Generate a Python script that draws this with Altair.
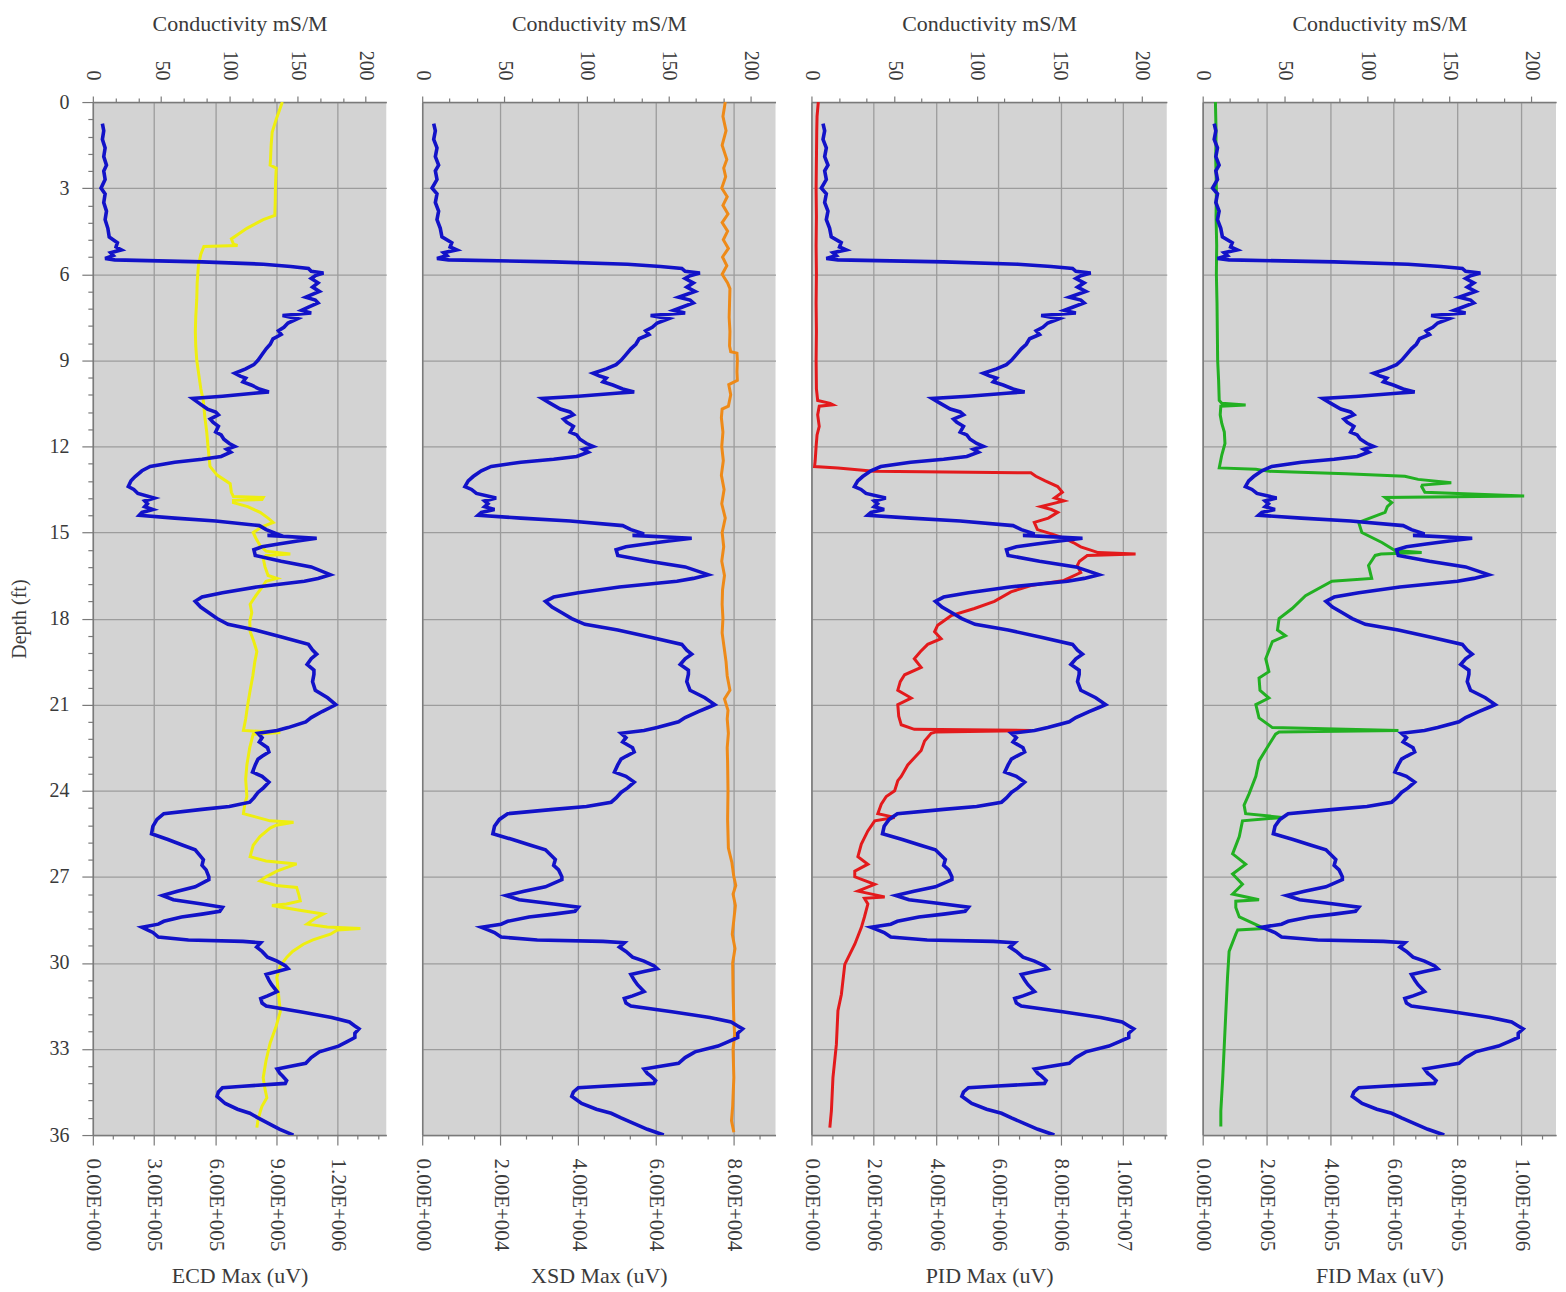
import altair as alt
import pandas as pd

# ---------------- data ----------------
# Conductivity log (mS/M) vs depth (ft) - same in all four panels
cond_depth = [0.75, 1.0, 1.3, 1.6, 1.9, 2.2, 2.4, 2.7, 3.0, 3.2, 3.5, 3.8, 4.1, 4.4, 4.7, 4.9, 5.05, 5.15, 5.25, 5.35,
              5.45, 5.5, 5.57, 5.65, 5.73, 5.8, 5.9, 5.96, 6.05, 6.15, 6.3, 6.45, 6.6, 6.8, 6.9, 7.0, 7.15, 7.26, 7.35, 7.44,
              7.55, 7.7, 7.85, 7.97, 8.1, 8.25, 8.44, 8.6, 8.8, 9.0, 9.15, 9.3, 9.45, 9.55, 9.62, 9.75, 9.86, 10.0, 10.1, 10.15,
              10.25, 10.33, 10.5, 10.7, 10.8, 10.9, 11.05, 11.16, 11.3, 11.5, 11.6, 11.75, 11.9, 12.0, 12.1, 12.2, 12.35, 12.45, 12.55, 12.7,
              12.85, 13.05, 13.2, 13.4, 13.5, 13.64, 13.8, 13.9, 14.0, 14.1, 14.2, 14.3, 14.4, 14.5, 14.6, 14.76, 14.9, 15.05, 15.1, 15.2,
              15.3, 15.4, 15.5, 15.6, 15.8, 16.0, 16.2, 16.47, 16.6, 16.7, 16.9, 17.1, 17.25, 17.4, 17.6, 17.8, 18.0, 18.2, 18.4, 18.65,
              18.9, 19.1, 19.24, 19.4, 19.6, 19.8, 19.94, 20.2, 20.5, 20.76, 21.0, 21.1, 21.24, 21.45, 21.6, 21.8, 21.9, 22.0, 22.15, 22.3,
              22.5, 22.65, 22.8, 22.9, 23.1, 23.35, 23.5, 23.7, 23.9, 24.06, 24.25, 24.4, 24.55, 24.65, 24.8, 25.0, 25.24, 25.5, 25.7, 25.9,
              26.06, 26.4, 26.6, 26.76, 27.0, 27.1, 27.35, 27.5, 27.65, 27.8, 27.95, 28.06, 28.2, 28.3, 28.4, 28.55, 28.65, 28.76, 28.85, 28.94,
              29.1, 29.2, 29.25, 29.3, 29.45, 29.6, 29.8, 29.94, 30.1, 30.2, 30.3, 30.4, 30.6, 30.76, 31.0, 31.15, 31.24, 31.4, 31.5, 31.7,
              31.9, 32.06, 32.2, 32.3, 32.45, 32.6, 32.75, 32.9, 33.1, 33.3, 33.5, 33.6, 33.7, 33.85, 33.94, 34.1, 34.2, 34.3, 34.35, 34.5,
              34.65, 34.9, 35.1, 35.24, 35.4, 35.6, 35.8, 36.0]
cond_vals = [7, 8, 7, 9, 8, 10, 8, 9, 6, 9, 8, 10, 9, 11, 12, 18, 17, 21, 13, 15,
             9, 16, 80, 125, 145, 158, 160, 169, 163, 160, 165, 161, 166, 156, 163, 165, 158, 153, 160, 139,
             150, 143, 140, 136, 138, 132, 130, 127, 124, 121, 118, 112, 104, 108, 112, 110, 116, 122, 129, 118,
             95, 73, 78, 84, 90, 92, 86, 88, 92, 90, 94, 96, 100, 104, 98, 101, 94, 80, 60, 42,
             36, 31, 28, 26, 30, 33, 45, 38, 40, 38, 44, 36, 34, 60, 90, 122, 127, 135, 128, 164,
             150, 136, 124, 118, 119, 138, 160, 174, 165, 155, 120, 95, 80, 75, 79, 85, 91, 99, 119, 139,
             158, 161, 164, 160, 157, 162, 162, 161, 163, 172, 178, 174, 168, 160, 156, 143, 135, 121, 124, 122,
             128, 129, 124, 121, 119, 117, 124, 129, 125, 121, 118, 115, 100, 80, 52, 47, 44, 43, 55, 66,
             75, 81, 80, 83, 85, 85, 75, 62, 51, 59, 80, 95, 93, 80, 65, 52, 48, 36, 40, 44,
             48, 70, 110, 123, 120, 124, 128, 135, 141, 143, 135, 127, 129, 131, 135, 128, 123, 124, 127, 152,
             175, 188, 192, 195, 192, 192, 186, 180, 166, 160, 156, 145, 135, 137, 139, 142, 141, 110, 95, 92,
             91, 97, 106, 115, 121, 129, 137, 147]

# ECD (uV)
ecd_depth = [0.0, 0.3, 0.6, 1.05, 1.5, 2.0, 2.2, 2.3, 2.6, 3.0, 3.5, 3.95, 4.1, 4.4, 4.6, 4.77, 4.95, 5.0, 5.03, 5.3,
             5.7, 6.3, 6.87, 7.5, 8.0, 8.5, 9.0, 9.5, 10.0, 10.4, 11.0, 11.5, 12.0, 12.7, 13.0, 13.3, 13.6, 13.75, 13.78, 13.85,
             13.88, 13.96, 14.1, 14.3, 14.5, 14.65, 14.8, 15.0, 15.2, 15.46, 15.65, 15.75, 15.8, 15.9, 16.2, 16.5, 16.6, 16.7, 16.85, 17.2,
             17.5, 17.8, 18.1, 18.45, 18.8, 19.15, 19.5, 20.0, 20.5, 21.0, 21.5, 21.9, 21.97, 22.03, 22.5, 23.1, 23.6, 24.2, 24.5, 24.8,
             25.05, 25.1, 25.2, 25.3, 25.6, 25.9, 26.3, 26.45, 26.55, 26.8, 27.0, 27.14, 27.3, 27.37, 27.6, 27.84, 27.95, 28.0, 28.15, 28.3,
             28.45, 28.65, 28.75, 28.8, 28.85, 29.0, 29.2, 29.35, 29.6, 29.8, 30.1, 30.5, 31.0, 31.7, 32.2, 32.8, 33.4, 34.0, 34.4, 34.7,
             35.0, 35.2, 35.5, 35.74]
ecd_vals = [930e3, 915e3, 900e3, 880e3, 875e3, 872e3, 870e3, 900e3, 898e3, 896e3, 895e3, 893e3, 836e3, 756e3, 715e3, 680e3, 690e3, 710e3, 545e3, 530e3,
            518e3, 512e3, 510e3, 505e3, 503e3, 505e3, 510e3, 520e3, 530e3, 542e3, 550e3, 559e3, 565e3, 575e3, 610e3, 674e3, 680e3, 690e3, 836e3, 830e3,
            690e3, 690e3, 760e3, 821e3, 860e3, 885e3, 830e3, 787e3, 800e3, 821e3, 850e3, 969e3, 850e3, 836e3, 845e3, 860e3, 903e3, 850e3, 836e3, 800e3,
            772e3, 780e3, 770e3, 772e3, 790e3, 805e3, 795e3, 785e3, 772e3, 760e3, 750e3, 739e3, 920e3, 787e3, 770e3, 756e3, 750e3, 756e3, 745e3, 739e3,
            870e3, 985e3, 900e3, 870e3, 820e3, 787e3, 772e3, 850e3, 1000e3, 903e3, 850e3, 821e3, 900e3, 1000e3, 1010e3, 1018e3, 950e3, 879e3, 1000e3, 1131e3,
            1090e3, 1051e3, 1150e3, 1313e3, 1200e3, 1166e3, 1080e3, 1033e3, 980e3, 952e3, 920e3, 903e3, 910e3, 920e3, 900e3, 870e3, 850e3, 836e3, 845e3, 854e3,
            830e3, 821e3, 810e3, 805e3]

# XSD (uV)
xsd_depth = [0.0, 0.5, 1.0, 1.5, 2.0, 2.3, 2.6, 3.0, 3.3, 3.6, 3.9, 4.2, 4.5, 4.8, 5.1, 5.4, 5.7, 6.0, 6.3, 6.5,
             7.0, 7.5, 8.0, 8.5, 8.7, 8.75, 9.0, 9.4, 9.7, 9.85, 10.2, 10.6, 10.7, 11.0, 11.5, 12.0, 12.5, 13.0, 13.5, 14.0,
             14.5, 15.0, 15.5, 16.0, 16.5, 17.0, 17.5, 18.0, 18.5, 19.0, 19.5, 20.0, 20.5, 20.8, 21.2, 21.5, 22.0, 22.5, 23.0, 24.0,
             25.0, 26.0, 26.5, 27.0, 27.3, 27.6, 28.0, 28.5, 29.0, 29.5, 30.0, 31.0, 32.0, 32.5, 33.0, 34.0, 35.0, 35.5, 35.9]
xsd_vals = [77.8e3, 77.2e3, 78.0e3, 77.0e3, 78.2e3, 77.4e3, 77.9e3, 76.9e3, 78.3e3, 77.2e3, 78.5e3, 77.0e3, 78.4e3, 77.3e3, 78.6e3, 77.1e3, 78.2e3, 77.0e3, 78.4e3, 79.0e3,
            78.9e3, 78.8e3, 79.0e3, 78.9e3, 79.2e3, 80.8e3, 80.9e3, 80.8e3, 80.9e3, 78.7e3, 79.2e3, 78.6e3, 77.0e3, 76.8e3, 77.2e3, 76.9e3, 77.3e3, 76.8e3, 77.5e3, 76.9e3,
            77.8e3, 77.0e3, 77.4e3, 76.9e3, 77.6e3, 77.1e3, 77.0e3, 77.2e3, 77.0e3, 77.5e3, 78.0e3, 78.3e3, 79.0e3, 77.6e3, 78.5e3, 78.3e3, 78.6e3, 78.3e3, 78.4e3, 78.5e3,
            78.4e3, 78.6e3, 79.5e3, 80.0e3, 80.5e3, 79.8e3, 80.4e3, 80.0e3, 79.6e3, 80.3e3, 79.7e3, 79.8e3, 80.0e3, 80.2e3, 79.8e3, 80.0e3, 79.7e3, 79.4e3, 80.0e3]

# PID (uV)
pid_depth = [0.0, 0.5, 1.0, 2.0, 3.0, 4.0, 5.0, 6.0, 7.0, 8.0, 9.0, 10.0, 10.4, 10.5, 10.55, 10.6, 10.9, 11.3, 11.6, 12.0,
             12.5, 12.7, 12.75, 12.87, 12.92, 13.04, 13.2, 13.4, 13.6, 13.8, 13.9, 14.1, 14.2, 14.3, 14.5, 14.65, 14.9, 15.05, 15.2, 15.35,
             15.5, 15.7, 15.75, 15.8, 16.0, 16.15, 16.4, 16.67, 16.85, 17.07, 17.4, 17.65, 17.9, 18.23, 18.46, 18.7, 18.9, 19.15, 19.4, 19.7,
             19.96, 20.2, 20.5, 20.77, 21.0, 21.4, 21.7, 21.86, 21.9, 21.95, 22.0, 22.27, 22.6, 23.1, 23.5, 23.65, 24.0, 24.2, 24.47, 24.8,
             24.93, 25.05, 25.4, 25.86, 26.3, 26.56, 26.8, 27.0, 27.26, 27.5, 27.7, 27.75, 27.95, 28.4, 28.77, 29.35, 30.05, 31.1, 31.67, 32.84,
             34.0, 35.16, 35.74]
pid_vals = [0.22e6, 0.18e6, 0.17e6, 0.16e6, 0.15e6, 0.16e6, 0.15e6, 0.16e6, 0.15e6, 0.16e6, 0.15e6, 0.16e6, 0.2e6, 0.6e6, 0.69e6, 0.25e6, 0.2e6, 0.25e6, 0.18e6, 0.15e6,
            0.12e6, 0.1e6, 0.85e6, 2.0e6, 7.04e6, 7.2e6, 7.5e6, 7.9e6, 8.05e6, 7.8e6, 8.1e6, 7.36e6, 7.7e6, 7.9e6, 7.6e6, 7.15e6, 7.25e6, 7.7e6, 8.1e6, 8.4e6,
            8.64e6, 9.2e6, 10.4e6, 8.85e6, 8.6e6, 8.53e6, 8.64e6, 8.1e6, 7.04e6, 6.4e6, 5.87e6, 5.23e6, 4.48e6, 4.05e6, 3.95e6, 4.16e6, 3.73e6, 3.5e6, 3.3e6, 3.52e6,
            2.99e6, 2.85e6, 2.77e6, 3.2e6, 2.77e6, 2.8e6, 2.88e6, 3.3e6, 7.04e6, 4.0e6, 3.84e6, 3.63e6, 3.52e6, 3.09e6, 2.88e6, 2.77e6, 2.67e6, 2.4e6, 2.24e6, 2.13e6,
            2.67e6, 2.03e6, 1.81e6, 1.6e6, 1.49e6, 1.81e6, 1.39e6, 1.39e6, 2.03e6, 1.49e6, 2.35e6, 1.7e6, 1.81e6, 1.7e6, 1.6e6, 1.39e6, 1.07e6, 0.96e6, 0.85e6, 0.8e6,
            0.69e6, 0.64e6, 0.59e6]

# FID (uV)
fid_depth = [0.0, 1.0, 2.0, 3.0, 4.0, 5.0, 6.0, 7.0, 8.0, 9.0, 9.7, 10.4, 10.5, 10.56, 10.6, 10.9, 11.2, 11.5, 11.9, 12.3,
             12.75, 12.8, 12.87, 12.95, 13.04, 13.15, 13.27, 13.35, 13.4, 13.6, 13.73, 13.78, 13.96, 14.1, 14.3, 14.65, 15.0, 15.35, 15.63, 15.7,
             15.75, 15.8, 16.15, 16.6, 16.7, 17.2, 17.65, 18.0, 18.4, 18.6, 18.8, 19.4, 19.85, 20.07, 20.5, 20.77, 21.0, 21.46, 21.8, 21.9,
             21.95, 22.03, 22.4, 22.96, 23.5, 24.1, 24.5, 24.8, 24.93, 25.05, 25.6, 26.2, 26.56, 26.9, 27.26, 27.6, 27.8, 27.85, 28.07, 28.4,
             28.8, 28.85, 29.0, 29.6, 30.5, 31.67, 32.84, 34.0, 35.16, 35.7]
fid_vals = [40e3, 42e3, 41e3, 43e3, 42e3, 44e3, 43e3, 45e3, 46e3, 47e3, 50e3, 52e3, 60e3, 135e3, 57e3, 55e3, 60e3, 68e3, 70e3, 60e3,
            52e3, 167e3, 210e3, 450e3, 635e3, 677e3, 781e3, 690e3, 688e3, 698e3, 1010e3, 573e3, 594e3, 580e3, 573e3, 490e3, 500e3, 563e3, 604e3, 688e3,
            560e3, 542e3, 521e3, 531e3, 406e3, 323e3, 281e3, 240e3, 235e3, 260e3, 219e3, 198e3, 208e3, 177e3, 180e3, 208e3, 167e3, 177e3, 219e3, 615e3,
            240e3, 229e3, 208e3, 177e3, 167e3, 146e3, 130e3, 135e3, 250e3, 125e3, 115e3, 94e3, 135e3, 94e3, 125e3, 94e3, 177e3, 104e3, 104e3, 115e3,
            193e3, 110e3, 104e3, 83e3, 78e3, 73e3, 68e3, 63e3, 57e3, 57e3]

# ---------------- style ----------------
FONT = "Liberation Serif"
BG = "#d3d3d3"
GRID = "#9c9c9c"
AXIS_C = "#7a7a7a"
TEXT_C = "#3a3a3a"
BLUE = "#1212c8"

PLOT_H = 1035
LABEL_FS = 20
TITLE_FS = 22


def maj(step):
    return f"abs(datum.value/{step} - round(datum.value/{step})) < 0.001"


def cond_num(test, a, b):
    return {"condition": {"test": test, "value": a}, "value": b}


y_ticks = [round(0.6 * k, 4) for k in range(61)]
top_ticks = [50.0 / 3 * k for k in range(13)]


def y_enc(first):
    common = dict(values=y_ticks, grid=True, gridColor=GRID, gridWidth=1.3,
                  gridOpacity=cond_num(maj(3), 1, 0), labelOverlap=False)
    if first:
        ax = alt.Axis(title="Depth (ft)", titleFontSize=20,
                      labelExpr=f"{maj(3)} ? toString(round(datum.value)) : ''",
                      tickSize=cond_num(maj(3), 11, 5), labelPadding=13, titlePadding=19,
                      labelFontSize=20, **common)
    else:
        ax = alt.Axis(title=None, labels=False, ticks=False, **common)
    return alt.Y("depth:Q", scale=alt.Scale(domain=[0, 36], reverse=True, nice=False, zero=False), axis=ax)


def x_top():
    return alt.X("cond:Q", scale=alt.Scale(domain=[0, 215], nice=False, zero=False),
                 axis=alt.Axis(orient="top", title="Conductivity mS/M", values=top_ticks,
                               labelExpr=f"{maj(50)} ? toString(round(datum.value)) : ''",
                               tickSize=cond_num(maj(50), 6, 4), labelFontSize=20,
                               labelAngle=90, labelAlign="right", labelBaseline="middle",
                               labelPadding=16, titlePadding=15, grid=False, labelOverlap=False))


def x_bottom(title, dmax, minor, major):
    n = int(dmax / minor + 1e-9)
    vals = [minor * k for k in range(n + 1)]
    return alt.X("val:Q", scale=alt.Scale(domain=[0, dmax], nice=False, zero=False),
                 axis=alt.Axis(orient="bottom", title=title, values=vals,
                               labelExpr=f"{maj(major)} ? replace(format(datum.value, '.2e'), 'e+', 'E+00') : ''",
                               tickSize=cond_num(maj(major), 10, 4), labelFontSize=21,
                               labelAngle=90, labelAlign="left", labelBaseline="middle",
                               labelPadding=13, titlePadding=15,
                               grid=True, gridColor=GRID, gridWidth=1.3,
                               gridOpacity=cond_num(maj(major), 1, 0), labelOverlap=False))


cond_df = pd.DataFrame({"depth": cond_depth, "cond": cond_vals, "i": range(len(cond_vals))})


def panel(depths, values, color, title, dmax, minor, major, width, first, sw=3):
    df = pd.DataFrame({"depth": depths, "val": values, "i": range(len(values))})
    det = alt.Chart(df).mark_line(color=color, strokeWidth=sw, clip=True).encode(
        x=x_bottom(title, dmax, minor, major), y=y_enc(first), order="i:Q")
    blue = alt.Chart(cond_df).mark_line(color=BLUE, strokeWidth=3.6, clip=True).encode(
        x=x_top(), y=y_enc(first), order="i:Q")
    return alt.layer(det, blue).resolve_scale(x="independent").properties(width=width, height=PLOT_H)


p1 = panel(ecd_depth, ecd_vals, "#eeee10", "ECD Max (uV)", 1.44e6, 1e5, 3e5, 294, True, sw=3)
p2 = panel(xsd_depth, xsd_vals, "#ee8a18", "XSD Max (uV)", 9.07e4, 2e4 / 3, 2e4, 354, False)
p3 = panel(pid_depth, pid_vals, "#e31a1c", "PID Max (uV)", 1.14e7, 2e6 / 3, 2e6, 356, False)
p4 = panel(fid_depth, fid_vals, "#22b022", "FID Max (uV)", 1.11e6, 2e5 / 3, 2e5, 354, False)

chart = alt.hconcat(p1, p2, p3, p4, spacing=36, bounds="flush").configure_view(
    fill=BG, stroke=None
).configure_axis(
    labelFont=FONT, titleFont=FONT, labelFontSize=LABEL_FS, titleFontSize=TITLE_FS,
    titleFontWeight="normal", labelColor=TEXT_C, titleColor=TEXT_C,
    domainColor=AXIS_C, tickColor=AXIS_C, domainWidth=1.5, tickWidth=1.2
).properties(padding={"left": 2, "top": 2, "right": 2, "bottom": 2})

chart.save("out.html", embed_options={"renderer": "svg", "actions": False})
